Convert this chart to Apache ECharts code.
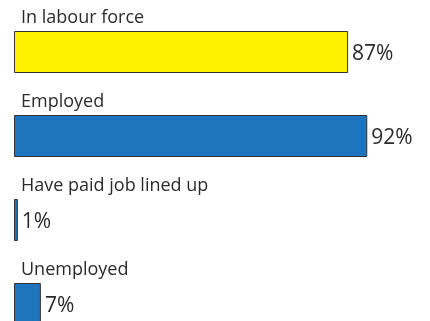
<!DOCTYPE html>
<html>
<head>
<meta charset="utf-8">
<script src="https://cdn.jsdelivr.net/npm/echarts@6/dist/echarts.min.js"></script>
<style>
  html, body { margin: 0; padding: 0; background: #fff; overflow: hidden; }
  #chart { width: 430px; height: 346px; }
</style>
</head>
<body>
<div id="chart"></div>
<script>
// Labour status shares (%)
const categories = ['In labour force', 'Employed', 'Have paid job lined up', 'Unemployed'];
const values = [87, 92, 1, 7];
const barColors = ['#FFF200', '#1F75BD', '#1F75BD', '#1F75BD'];

const chart = echarts.init(document.getElementById('chart'), null, { renderer: 'canvas' });

chart.setOption({
  animation: false,
  backgroundColor: '#ffffff',
  grid: { left: 14, top: 10, width: 384, height: 336, containLabel: false },
  xAxis: {
    type: 'value', min: 0, max: 100, show: false
  },
  yAxis: {
    type: 'category',
    data: categories,
    inverse: true,
    axisLine: { show: false },
    axisTick: { show: false },
    splitLine: { show: false },
    axisLabel: {
      inside: true,
      margin: 7,
      align: 'left',
      verticalAlign: 'middle',
      // category name sits above its bar: a blank second line pushes it up
      formatter: v => '{n|' + v + '}\n{s|}',
      rich: {
        n: { color: '#2b2b2b', fontFamily: 'Open Sans', fontSize: 18, lineHeight: 24 },
        s: { lineHeight: 68 }
      }
    }
  },
  series: [{
    type: 'bar',
    barWidth: 42,
    data: values.map((v, i) => ({
      value: v,
      itemStyle: { color: barColors[i] }
    })),
    itemStyle: { borderColor: '#333333', borderWidth: 1 },
    label: {
      show: true,
      position: 'right',
      distance: 4,
      offset: [0, 2],
      formatter: p => p.value + '%',
      color: '#2b2b2b',
      fontFamily: 'Open Sans',
      fontSize: 21
    }
  }]
});
</script>
</body>
</html>
